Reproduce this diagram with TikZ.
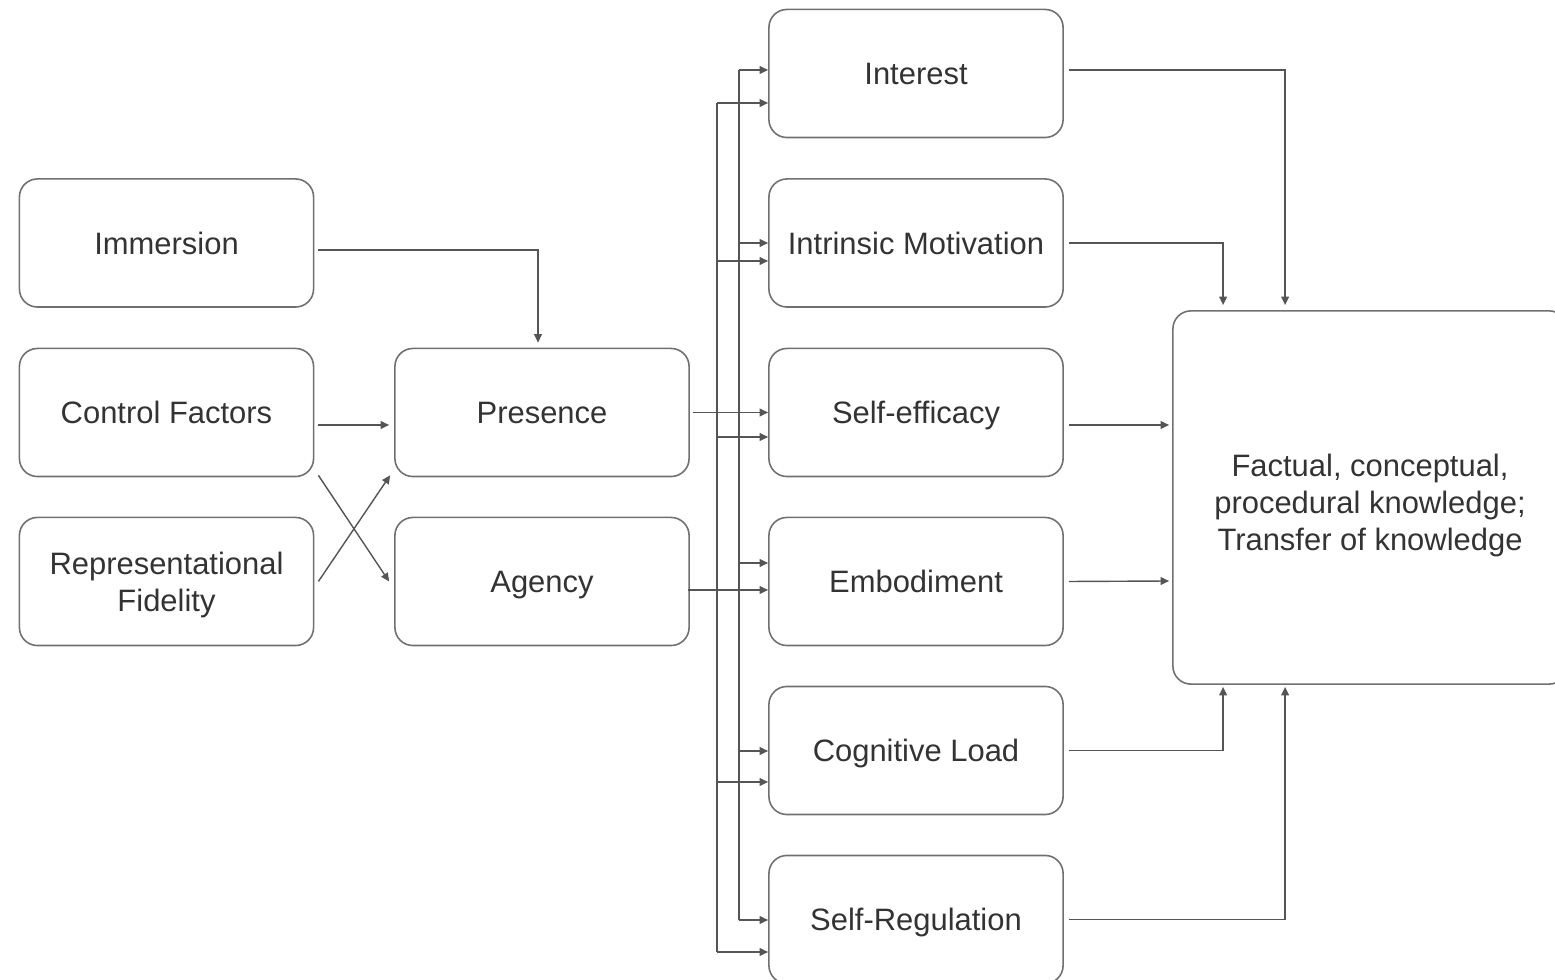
\documentclass[tikz,border=0pt]{standalone}
\usepackage{fontspec}
\setmainfont{Liberation Sans}
\usetikzlibrary{arrows.meta,calc}
\definecolor{boxc}{HTML}{707070}
\definecolor{linec}{HTML}{555555}
\definecolor{txtc}{HTML}{333333}
\tikzset{
  box/.style={draw=boxc, rounded corners=0.18cm, minimum width=2.94cm, minimum height=1.28cm,
    align=center, text=txtc, font=\fontsize{8.8}{10.5}\selectfont, line width=0.45pt, inner sep=0pt,
    text height=6.3pt, text depth=0pt},
  conn/.style={draw=linec, line width=0.4pt},
  arr/.style={conn, -{Triangle[length=2.4pt,width=2.2pt]}},
}
\begin{document}
\begin{tikzpicture}[x=0.01cm,y=-0.01cm]
\useasboundingbox (0,0) rectangle (1555,980);
\clip (0,0) rectangle (1555,980);
% left column
\node[box] (imm) at (166.5,243) {Immersion};
\node[box] (ctrl) at (166.5,412.5) {Control Factors};
\node[box, text height=16.8pt] (rep) at (166.5,581.5) {Representational\\Fidelity};
% middle column
\node[box] (pres) at (542,412.5) {Presence};
\node[box] (agen) at (542,581.5) {Agency};
% right column
\node[box] (int) at (916,73.5) {Interest};
\node[box] (mot) at (916,243) {Intrinsic Motivation};
\node[box] (eff) at (916,412.5) {Self-efficacy};
\node[box] (emb) at (916,581.5) {Embodiment};
\node[box] (cog) at (916,750.5) {Cognitive Load};
\node[box] (reg) at (916,919.5) {Self-Regulation};
% outcome
\node[box, minimum width=3.94cm, minimum height=3.73cm, text height=29.9pt] (kn) at (1370,497.5)
  {Factual, conceptual,\\procedural knowledge;\\Transfer of knowledge};

% left to middle
\draw[arr] ($(imm.east)+(4,7)$) -| ($(pres.north)+(-4,-5)$);
\draw[arr] ($(ctrl.east)+(4,12.5)$) -- ($(pres.west)+(-5,12.5)$);
\draw[arr] ($(ctrl.south east)+(4,-2)$) -- ($(agen.west)+(-5,0)$);
\draw[arr] ($(rep.east)+(4,0)$) -- ($(pres.south west)+(-4,-2)$);

% Presence: direct + bus at x=739
\draw[arr] ($(pres.east)+(3,0)$) -- (eff.west);
\coordinate (pb) at (739,412.5);
\draw[conn] (739,70) -- (739,920);
\draw[arr] (739,70) -- (int.west |- 0,70);
\draw[arr] (739,243) -- (mot.west |- 0,243);
\draw[arr] (739,563) -- (emb.west |- 0,563);
\draw[arr] (739,751) -- (cog.west |- 0,751);
\draw[arr] (739,920) -- (reg.west |- 0,920);

% Agency: direct + bus at x=717
\draw[arr] ($(agen.east)+(-2,8.5)$) -- ($(emb.west)+(0,8.5)$);
\coordinate (ab) at (717,590);
\draw[conn] (717,103) -- (717,952);
\draw[arr] (717,103) -- (int.west |- 0,103);
\draw[arr] (717,261) -- (mot.west |- 0,261);
\draw[arr] (717,437) -- (eff.west |- 0,437);
\draw[arr] (717,782) -- (cog.west |- 0,782);
\draw[arr] (717,952) -- (reg.west |- 0,952);

% right column to outcome
\draw[arr] ($(int.east)+(5,-3.5)$) -| ($(kn.north west)+(113,-5)$);
\draw[arr] ($(mot.east)+(5,0)$) -| ($(kn.north west)+(51,-5)$);
\draw[arr] ($(eff.east)+(5,12.5)$) -- ($(kn.west |- 0,425)+(-3,0)$);
\draw[arr] ($(emb.east)+(5,0)$) -- ($(kn.west |- 0,581)+(-3,0)$);
\draw[arr] ($(cog.east)+(5,0)$) -| ($(kn.south west)+(51,2)$);
\draw[arr] ($(reg.east)+(5,0)$) -| ($(kn.south west)+(113,2)$);
\end{tikzpicture}
\end{document}
